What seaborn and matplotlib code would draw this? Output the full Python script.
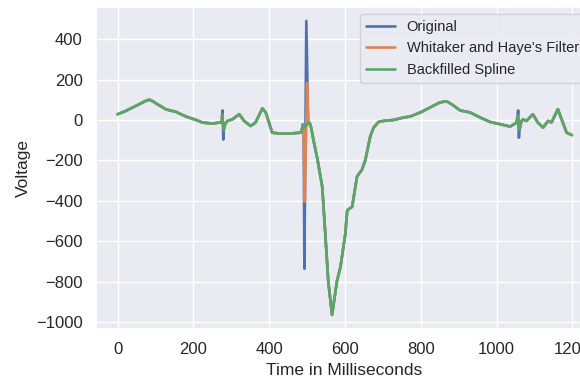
import numpy as np
import pandas as pd
import matplotlib
matplotlib.use("Agg")
import matplotlib.pyplot as plt
import seaborn as sns

# ---- data ----
time_ms = [0, 22, 49, 75, 84, 93, 110, 128, 154, 180, 207, 224, 250, 268, 275,
           276, 280, 284, 290, 303, 321, 334, 351, 364, 382, 391, 408, 430, 457,
           483, 485, 489, 491, 503, 507, 511, 517, 528, 540, 548, 556, 566, 579, 588,
           601, 606, 619, 632, 645, 654, 667, 676, 689, 702, 729, 755, 772, 799,
           825, 851, 869, 886, 904, 930, 957, 983, 1009, 1036, 1053, 1056, 1061,
           1066, 1070, 1079, 1096, 1109, 1123, 1136, 1145, 1162, 1175, 1185,
           1193, 1199]
spline_v = [28, 45, 70, 95, 100, 92, 72, 52, 40, 17, 0, -13, -18, -13, -12,
            25, -50, -20, -5, 3, 28, -5, -30, -13, 57, 37, -63, -68, -67,
            -63, -62, -22, -40, -18, -15, -40, -100, -200, -330, -560, -800, -965, -797, -730,
            -564, -447, -430, -280, -246, -197, -80, -37, -10, -5, 0, 12, 17, 37,
            62, 87, 92, 72, 47, 37, 12, -10, -21, -33, -13, 20, -47,
            -5, 3, -5, 28, -13, -38, -5, -13, 53, -13, -63,
            -70, -75]

# artifacts present in the raw signal
orig_art_t = [277, 279, 493, 498, 1057, 1059]
orig_art_v = [47, -97, -737, 490, 47, -88]
# residual artifact after Whitaker and Haye's filter
filt_art_t = [494, 500]
filt_art_v = [-405, 183]

labels = ["Original", "Whitaker and Haye's Filter", "Backfilled Spline"]


def merged(t_extra, v_extra):
    d = dict(zip(time_ms, spline_v))
    d.update(dict(zip(t_extra, v_extra)))
    ts = sorted(d)
    return ts, [d[t] for t in ts]


frames = []
for lab, (tx, vx) in zip(labels, [(orig_art_t, orig_art_v),
                                   (filt_art_t, filt_art_v),
                                   ([], [])]):
    ts, vs = merged(tx, vx)
    frames.append(pd.DataFrame({"t": ts, "v": vs, "series": lab}))
df = pd.concat(frames, ignore_index=True)

sns.set_theme(style="darkgrid")
plt.rcParams["font.family"] = ["Liberation Sans", "DejaVu Sans"]

fig = plt.figure(figsize=(5.8, 3.81), dpi=100)
ax = fig.add_axes([96 / 580, 52 / 381, (592 - 96) / 580, (374 - 52) / 381])

sns.lineplot(data=df, x="t", y="v", hue="series", hue_order=labels,
             estimator=None, sort=True, ax=ax, linewidth=1.9)

ax.set_xlim(-57, 1252)
ax.set_ylim(-1035, 559)
ax.set_xticks([0, 200, 400, 600, 800, 1000, 1200])
ax.set_yticks([-1000, -800, -600, -400, -200, 0, 200, 400])
ax.tick_params(labelsize=12)
ax.set_xlabel("Time in Milliseconds", fontsize=12.5)
ax.set_ylabel("Voltage", fontsize=12.5)
leg = ax.legend(loc="upper right", fontsize=10.5)

fig.savefig("out.png", dpi=100)
